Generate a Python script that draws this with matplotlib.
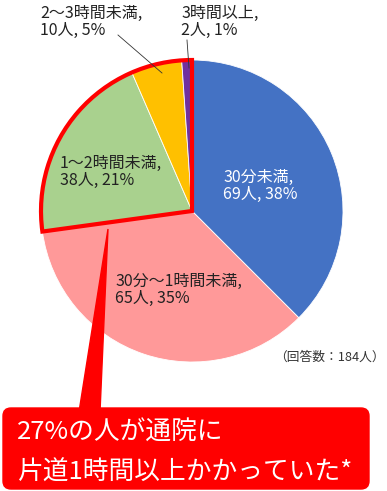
import matplotlib.pyplot as plt
import matplotlib.patches as mpatches

plt.rcParams['font.family'] = ['Noto Sans CJK JP', 'DejaVu Sans']

categories = ['30分未満', '30分～1時間未満', '1～2時間未満', '2～3時間未満', '3時間以上']
counts = [69, 65, 38, 10, 2]
percents = [38, 35, 21, 5, 1]
colors = ['#4472C4', '#FF9999', '#A9D18E', '#FFC000', '#7030A0']
total = 184
callout = ['27%の人が通院に', '片道1時間以上かかっていた*']

W, H = 387, 491
fig = plt.figure(figsize=(W / 100, H / 100), dpi=100)
ax = fig.add_axes([0, 0, 1, 1])

cx, cy, r = 192, H - 211, 151
ax.pie(counts, colors=colors, startangle=90, counterclock=False,
       center=(cx, cy), radius=r, frame=True,
       wedgeprops=dict(edgecolor='white', linewidth=0.6))
ax.set_xlim(0, W)
ax.set_ylim(0, H)
ax.set_aspect('equal')
ax.axis('off')

# red outline around the 1 hour+ slices
over = sum(counts[2:])
ax.add_patch(mpatches.Wedge((cx, cy), r, 90, 90 + over / total * 360,
                            fill=False, edgecolor='#FF0000', linewidth=3.0,
                            joinstyle='miter', zorder=5))

labels = [f'{c},\n{n}人, {p}%' for c, n, p in zip(categories, counts, percents)]
pos = [(223, 186), (115, 290), (60, 172), (40, 22), (181, 22)]
tcol = ['white', '#222222', '#222222', '#222222', '#222222']
for lab, (x, y), c in zip(labels, pos, tcol):
    ax.text(x, H - y, lab, color=c, fontsize=11.5, ha='left', va='center',
            linespacing=1.05, zorder=6)

# leader lines for the small slices
ax.plot([118, 162], [H - 35, H - 73], color='#333333', lw=0.6, zorder=6)
ax.plot([187, 189], [H - 40, H - 68], color='#333333', lw=0.6, zorder=6)

ax.text(385, H - 357, f'（回答数：{total}人）', fontsize=9.2, ha='right',
        va='center', color='#333333')

# callout
ax.add_patch(mpatches.Polygon([(108, H - 229), (79, H - 412), (100, H - 412)],
                              closed=True, color='#FF0000', zorder=7))
ax.add_patch(mpatches.FancyBboxPatch((3 + 8, H - 489 + 8), 366 - 16, 81 - 16,
                                     boxstyle='round,pad=8', color='#FF0000',
                                     zorder=7))
for line, y in zip(callout, [433, 473]):
    ax.text(17, H - y, line, color='white', fontsize=18.5, ha='left',
            va='center', zorder=8)

fig.savefig('out.png', dpi=100)
